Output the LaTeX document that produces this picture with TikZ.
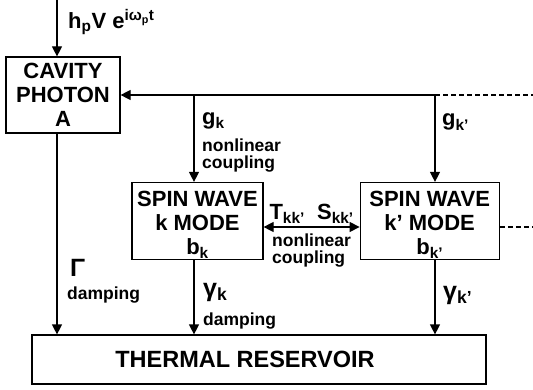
\documentclass[tikz,border=0pt]{standalone}
\usepackage{fontspec}
\setmainfont{Liberation Sans}
\usetikzlibrary{arrows.meta,positioning,calc}
\tikzset{
  >={Triangle[length=10pt,width=10pt]},
  box/.style={draw,line width=1.2pt,inner xsep=2pt,inner ysep=1pt,align=center,
              font=\fontsize{22}{24}\selectfont\bfseries},
  flow/.style={->,line width=1.2pt},
  link/.style={line width=1.1pt,dash pattern=on 5pt off 3pt},
  sym/.style={inner sep=0pt,anchor=base west,font=\fontsize{22}{24}\selectfont\bfseries},
  greek/.style={sym,font=\fontsize{25}{26}\selectfont\bfseries},
  flowlbl/.style={inner sep=0pt,anchor=north west,align=left,
                  font=\fontsize{17.5}{17}\selectfont\bfseries},
}
\begin{document}
\begin{tikzpicture}[x=1pt,y=1pt]
  \useasboundingbox (0,0) rectangle (533,389);

  \node[box,minimum width=114pt,minimum height=76pt] (cav) at (63,294)
    {CAVITY\\PHOTON\\A};
  \node[box,minimum width=131pt,minimum height=75pt] (spink) at (197.5,168)
    {\rule{0pt}{23pt}SPIN WAVE\\k MODE\\b\textsubscript{k}};
  \node[box,minimum width=139pt,minimum height=75pt,right=96pt of spink] (spinkp)
    {\rule{0pt}{23pt}SPIN WAVE\\k' MODE\\b\textsubscript{k'}};
  \node[box,minimum width=454pt,minimum height=49pt,font=\fontsize{23.5}{24}\selectfont\bfseries]
    (res) at (259,29.5) {\hspace*{-28pt}THERMAL RESERVOIR};

  \coordinate (pump) at (57,389);
  \coordinate (jk) at (194,294);
  \coordinate (jkp) at (435,294);
  \coordinate (busend) at (533,294);
  \coordinate (kpend) at (533,162);

  % pumping field
  \draw[flow] (pump) -- (pump |- cav.north);
  \node[sym] (pumplbl) at (68,360.5)
    {h\textsubscript{p}V e\textsuperscript{iω\textsubscript{p}t}};

  % coupling to the cavity photon
  \draw[flow] (jkp) -- (cav.east);
  \draw[link] (jkp) -- (busend);
  \draw[flow] (jk) -- (jk |- spink.north);
  \draw[flow] (jkp) -- (jkp |- spinkp.north);
  \node[sym] (gk) at (202,264.5) {g\textsubscript{k}};
  \node[flowlbl] (gklbl) at (202,250) {nonlinear\\coupling};
  \node[sym] (gkp) at (442,263) {g\textsubscript{k'}};

  % spin wave -- spin wave
  \draw[flow,<->] ([yshift=-6pt]spink.east) --
    node[sym,anchor=south,above=3pt] (tslbl) {T\textsubscript{kk'}\ \ S\textsubscript{kk'}}
    node[flowlbl,anchor=north,below=6pt] (sslbl) {nonlinear\\coupling}
    ([yshift=-6pt]spinkp.west);
  \draw[link] ([yshift=-6pt]spinkp.east) -- (kpend);

  % damping into the reservoir
  \draw[flow] (pump |- cav.south) -- (pump |- res.north);
  \draw[flow] (jk |- spink.south) -- (jk |- res.north);
  \draw[flow] (jkp |- spinkp.south) -- (jkp |- res.north);
  \node[greek] (gam0) at (70,113) {Γ};
  \node[flowlbl] (gam0lbl) at (67,102) {damping};
  \node[greek] (gamk) at (203,93) {γ\textsubscript{k}};
  \node[flowlbl] (gamklbl) at (203,76) {damping};
  \node[greek] (gamkp) at (443,90) {γ\textsubscript{k'}};
\end{tikzpicture}
\end{document}
